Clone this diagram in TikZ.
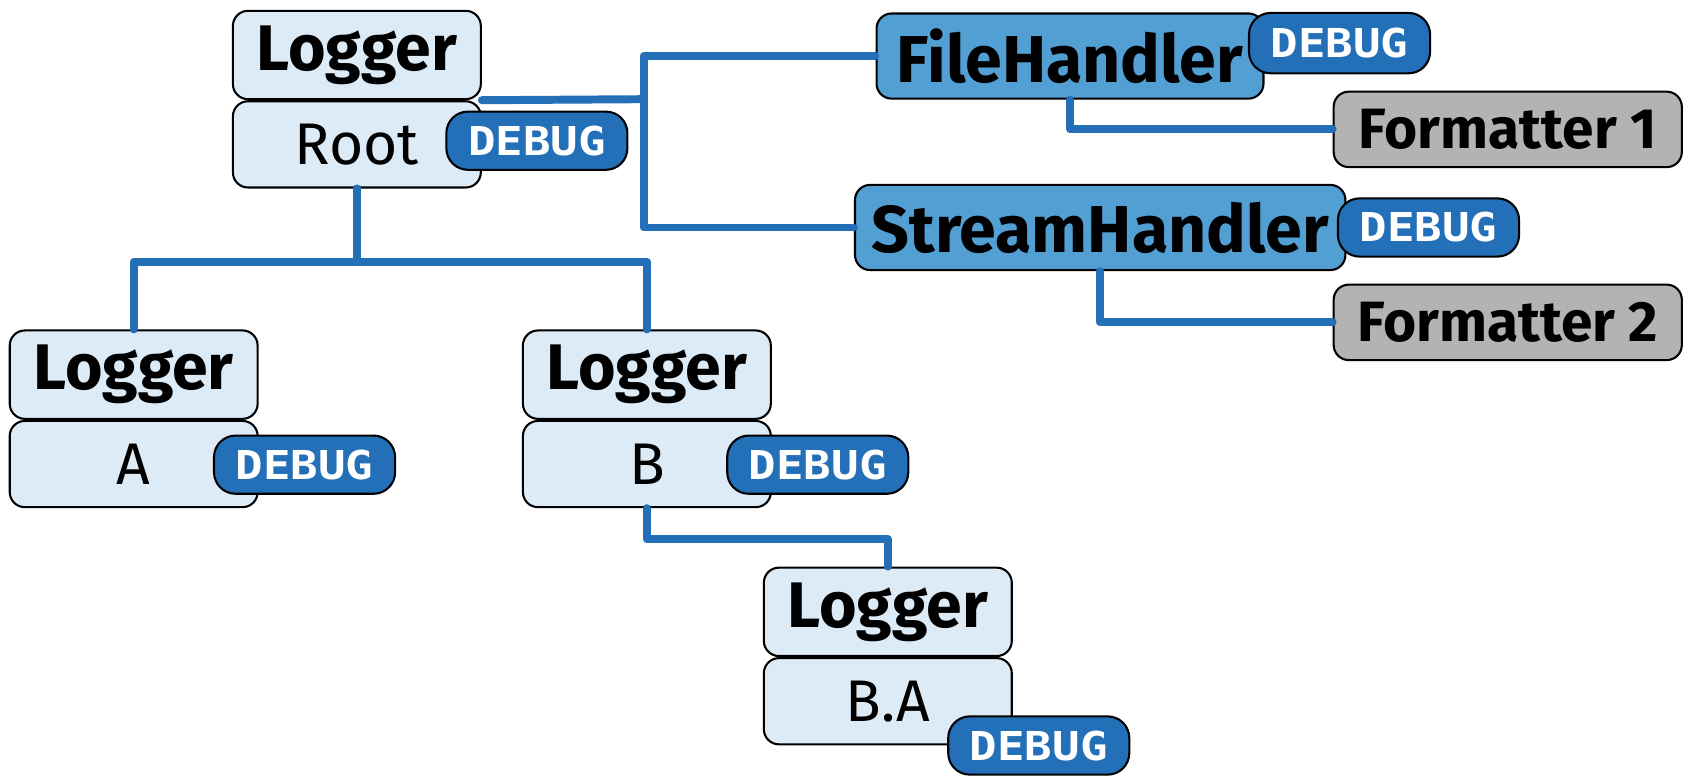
\documentclass[tikz,border=0pt]{standalone}
\usepackage{fontspec}
\setmainfont{Fira Sans}
\newfontfamily\lvlfont[FakeStretch=1.15]{DejaVu Sans Mono}
\usepackage{xcolor}
\usepackage{tikz}
\usetikzlibrary{positioning}
\definecolor{lightblue}{HTML}{DDEBF7}
\definecolor{handlerblue}{HTML}{529FD4}
\definecolor{levelblue}{HTML}{2470B8}
\definecolor{fmtgray}{HTML}{B3B3B3}

\begin{document}
\begin{tikzpicture}[x=0.02cm,y=-0.02cm,
	roundbox/.style={draw=black,line width=1.1pt,rounded corners=0.28cm,inner sep=0pt},
	loghead/.style={roundbox,fill=lightblue,minimum width=4.6cm,minimum height=1.64cm,font=\fontsize{34}{34}\selectfont\bfseries},
	logname/.style={roundbox,fill=lightblue,minimum width=4.6cm,minimum height=1.6cm,font=\fontsize{31}{31}\selectfont},
	lvlbox/.style={roundbox,rounded corners=0.4cm,fill=levelblue,text=white,minimum width=3.36cm,minimum height=1.08cm,font=\fontsize{21}{21}\lvlfont\bfseries},
	handler/.style={roundbox,fill=handlerblue,minimum height=1.58cm,font=\fontsize{35}{35}\selectfont\bfseries},
	fmtbox/.style={roundbox,fill=fmtgray,minimum width=6.46cm,minimum height=1.4cm,font=\fontsize{30}{30}\selectfont\bfseries},
	wire/.style={levelblue,line width=4.2pt,line cap=round,line join=round}]
	\useasboundingbox (0,0) rectangle (1568.5,722.5);
	% loggers
	\node[loghead] (rl) at (331,51) {Logger};
	\node[logname,below=0pt of rl] (root) {Root};
	\node[loghead] (al) at (124,347.5) {Logger};
	\node[logname,below=0pt of al] (a) {A};
	\node[loghead] (bl) at (600,347.5) {Logger};
	\node[logname,below=0pt of bl] (b) {B};
	\node[loghead] (bal) at (823.5,567.5) {Logger};
	\node[logname,below=0pt of bal] (ba) {B.A};
	% handlers and formatters
	\node[handler,minimum width=7.18cm] (fh) at (992.5,52) {FileHandler};
	\node[handler,minimum width=9.1cm] (sh) at (1020.5,211) {StreamHandler};
	\node[fmtbox] (f1) at (1398.5,120) {Formatter 1};
	\node[fmtbox] (f2) at (1398.5,299) {Formatter 2};
	% connectors
	\coordinate (hub) at (597,92);
	\draw[wire] (root.south) -- ++(0,68) -| (al.north);
	\draw[wire] (root.south) -- ++(0,68) -| (bl.north);
	\draw[wire] (b.south) -- ++(0,29) -| (bal.north);
	\draw[wire] (rl.south east) -- (hub);
	\draw[wire] (fh.west) -| (hub) |- (sh.west);
	\draw[wire] (fh.south) |- (f1.west);
	\draw[wire] (sh.south) |- (f2.west);
	% levels
	\node[lvlbox] (rootlvl) at (498,130.5) {DEBUG};
	\node[lvlbox] (alvl) at (282.5,431) {DEBUG};
	\node[lvlbox] (blvl) at (758.5,431) {DEBUG};
	\node[lvlbox] (balvl) at (963.5,691.5) {DEBUG};
	\node[lvlbox,minimum height=1.12cm] (fhlvl) at (1242.5,40) {DEBUG};
	\node[lvlbox] (shlvl) at (1325,211) {DEBUG};
\end{tikzpicture}
\end{document}
